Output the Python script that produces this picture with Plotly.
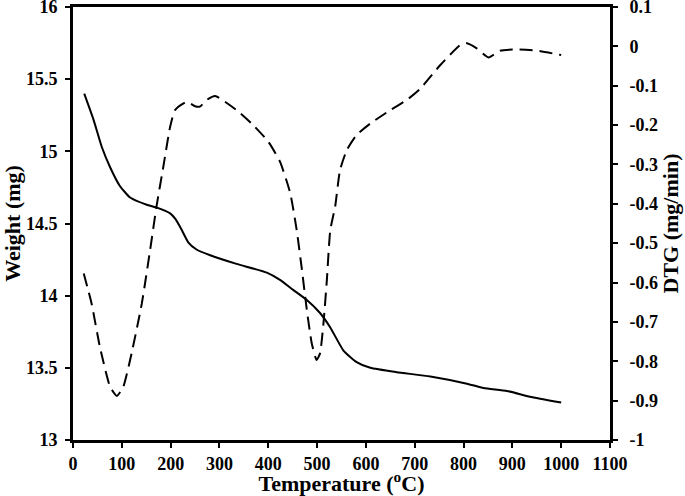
import plotly.graph_objects as go

# Weight (TG) curve
temp_w = [23, 42, 59, 76, 96, 117, 151, 172, 199, 210, 222, 236, 253, 281, 335, 397, 424, 451, 479,
          506, 527, 554, 581, 609, 663, 732, 807, 841, 889, 936, 1000]
weight = [15.40, 15.22, 15.03, 14.89, 14.76, 14.68, 14.63, 14.61, 14.57, 14.53, 14.46, 14.37, 14.32,
          14.28, 14.22, 14.16, 14.11, 14.04, 13.97, 13.88, 13.78, 13.62, 13.54, 13.50, 13.47, 13.44,
          13.39, 13.36, 13.34, 13.30, 13.26]

# DTG curve
temp_d = [22, 38, 55, 76, 90, 103, 120, 141, 158, 171, 185, 199, 209, 233, 250, 260, 274, 291,
          335, 369, 400, 424, 445, 458, 469, 479, 489, 499, 506, 513, 520, 527, 537, 547, 561,
          581, 609, 650, 684, 711, 752, 793, 807, 827, 851, 875, 909, 950, 1000]
dtg = [-0.577, -0.653, -0.763, -0.865, -0.888, -0.865, -0.780, -0.653, -0.517, -0.407, -0.306,
       -0.204, -0.162, -0.141, -0.152, -0.153, -0.136, -0.126, -0.162, -0.200, -0.242, -0.293,
       -0.373, -0.465, -0.568, -0.670, -0.754, -0.797, -0.780, -0.704, -0.594, -0.467, -0.407,
       -0.314, -0.263, -0.225, -0.196, -0.162, -0.136, -0.108, -0.048, 0.003, 0.008, -0.005,
       -0.028, -0.011, -0.008, -0.011, -0.022]

x_ticks = list(range(0, 1101, 100))
y_ticks = [13, 13.5, 14, 14.5, 15, 15.5, 16]
y_ticklabels = ["13", "13.5", "14", "14.5", "15", "15.5", "16"]
y2_ticks = [-1, -0.9, -0.8, -0.7, -0.6, -0.5, -0.4, -0.3, -0.2, -0.1, 0, 0.1]
y2_ticklabels = ["-1", "-0.9", "-0.8", "-0.7", "-0.6", "-0.5", "-0.4", "-0.3", "-0.2", "-0.1", "0", "0.1"]

font_family = "Liberation Serif"
tick_font = dict(family=font_family, size=18, color="black")
title_font = dict(family=font_family, size=22, color="black")

fig = go.Figure()
fig.add_trace(go.Scatter(x=temp_w, y=weight, mode="lines", yaxis="y",
                         line=dict(color="black", width=2, shape="spline", smoothing=0.5),
                         showlegend=False))
fig.add_trace(go.Scatter(x=temp_d, y=dtg, mode="lines", yaxis="y2",
                         line=dict(color="black", width=2, dash="13px,7px", shape="spline", smoothing=0.5),
                         showlegend=False))

fig.update_layout(
    width=685, height=496,
    margin=dict(l=73, r=75, t=7, b=56),
    paper_bgcolor="white", plot_bgcolor="white",
    xaxis=dict(range=[0, 1100], tickvals=x_ticks, ticktext=[f"<b>{t}</b>" for t in x_ticks],
               ticks="outside", ticklen=5, tickwidth=2,
               tickcolor="black", showline=True, linewidth=3, linecolor="black", mirror=True,
               showgrid=False, zeroline=False, tickfont=tick_font, automargin=False,
               ticklabeloverflow="allow",
               title=dict(text="<b>Temperature (<sup>o</sup>C)</b>", font=title_font, standoff=3)),
    yaxis=dict(range=[13, 16], tickvals=y_ticks, ticktext=[f"<b>{t}</b>" for t in y_ticklabels],
               ticks="outside", ticklen=5, tickwidth=2, tickcolor="black", showline=True,
               linewidth=3, linecolor="black", showgrid=False, zeroline=False, tickfont=tick_font,
               automargin=False, ticklabeloverflow="allow", ticklabelstandoff=4,
               title=dict(text="<b>Weight (mg)</b>", font=title_font, standoff=12)),
    yaxis2=dict(range=[-1, 0.1], tickvals=y2_ticks, ticktext=[f"<b>{t}</b>" for t in y2_ticklabels],
                overlaying="y", side="right", ticks="outside", ticklen=5, tickwidth=2,
                tickcolor="black", showline=True, linewidth=3, linecolor="black", showgrid=False,
                zeroline=False, tickfont=tick_font, automargin=False, ticklabeloverflow="allow",
                ticklabelstandoff=8,
                title=dict(text="<b>DTG (mg/min)</b>", font=title_font, standoff=2)),
)

fig.write_html("out.html", config={"displayModeBar": False},
               post_script="document.body.style.margin='0';")
